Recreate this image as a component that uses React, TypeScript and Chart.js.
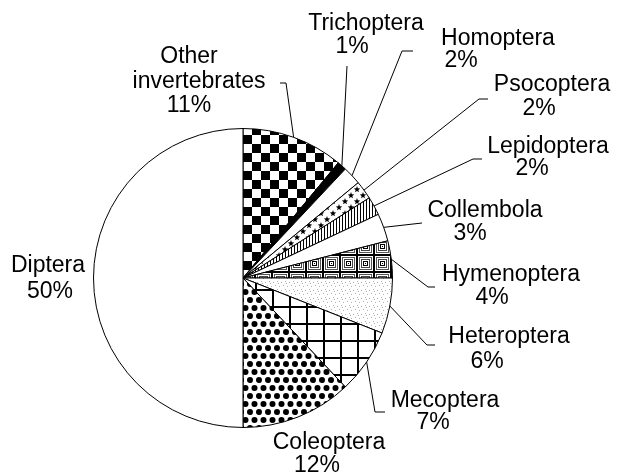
import React, { useEffect, useRef } from "react";
import { Chart, registerables } from "chart.js";

Chart.register(...registerables);

// ---- data ----
const categories = [
  "Other invertebrates",
  "Trichoptera",
  "Homoptera",
  "Psocoptera",
  "Lepidoptera",
  "Collembola",
  "Hymenoptera",
  "Heteroptera",
  "Mecoptera",
  "Coleoptera",
  "Diptera",
];
const shares = [11, 1, 2, 2, 2, 3, 4, 6, 7, 12, 50];

// ---- label layout (text line anchors: x center, baseline y; leader elbow & tick end) ----
type Pt = [number, number];
const labelLayout: { lines: Pt[]; elbow?: Pt; tick?: Pt }[] = [
  { lines: [[189, 63], [199, 88], [189, 112]], elbow: [286, 83], tick: [280, 83] },
  { lines: [[366, 30], [352, 53]], elbow: [347, 66], tick: [347, 66] },
  { lines: [[498, 45], [461, 67]], elbow: [402, 51], tick: [413, 51] },
  { lines: [[552, 91], [539, 115]], elbow: [479, 99], tick: [488, 99] },
  { lines: [[548, 153], [532, 175]], elbow: [473, 159], tick: [482, 159] },
  { lines: [[485, 217], [470, 240]], elbow: [422, 223], tick: [422, 223] },
  { lines: [[511, 281], [492, 304]], elbow: [428, 287], tick: [435, 287] },
  { lines: [[509, 343], [487, 368]], elbow: [427, 345], tick: [435, 345] },
  { lines: [[445, 407], [433, 429]], elbow: [375, 412], tick: [385, 412] },
  { lines: [[329, 449], [317, 472]] },
  { lines: [[48, 272], [50, 298]] },
];

const FONT = '23px "Liberation Sans", Arial, sans-serif';

function tile(
  ctx: CanvasRenderingContext2D,
  w: number,
  h: number,
  draw: (g: CanvasRenderingContext2D) => void
): CanvasPattern | string {
  const c = document.createElement("canvas");
  c.width = w;
  c.height = h;
  const g = c.getContext("2d")!;
  g.fillStyle = "#fff";
  g.fillRect(0, 0, w, h);
  draw(g);
  return ctx.createPattern(c, "repeat") || "#fff";
}

function star(g: CanvasRenderingContext2D, cx: number, cy: number, ro: number, ri: number) {
  g.beginPath();
  for (let i = 0; i < 10; i++) {
    const r = i % 2 === 0 ? ro : ri;
    const a = -Math.PI / 2 + (i * Math.PI) / 5;
    const x = cx + Math.cos(a) * r;
    const y = cy + Math.sin(a) * r;
    if (i === 0) g.moveTo(x, y);
    else g.lineTo(x, y);
  }
  g.closePath();
  g.fill();
}

function makeFills(ctx: CanvasRenderingContext2D) {
  const checker = tile(ctx, 18, 18, (g) => {
    g.fillStyle = "#000";
    g.fillRect(0, 0, 9, 9);
    g.fillRect(9, 9, 9, 9);
  });
  const stars = tile(ctx, 12, 12, (g) => {
    g.fillStyle = "#000";
    star(g, 3, 3.5, 3.4, 1.4);
    star(g, 9, 9.5, 3.4, 1.4);
  });
  const vlines = tile(ctx, 3, 1, (g) => {
    g.fillStyle = "#000";
    g.fillRect(0, 0, 1, 1);
  });
  const squares = tile(ctx, 17, 17, (g) => {
    g.fillStyle = "#000";
    g.fillRect(0, 0, 17, 17);
    g.fillStyle = "#fff";
    g.fillRect(1, 1, 15, 15);
    g.fillStyle = "#555";
    g.fillRect(2, 2, 13, 13);
    g.fillStyle = "#fff";
    g.fillRect(3, 3, 11, 11);
    g.fillStyle = "#444";
    g.fillRect(4, 4, 9, 9);
    g.fillStyle = "#fff";
    g.fillRect(5, 5, 7, 7);
    g.fillStyle = "#000";
    g.fillRect(6, 6, 5, 5);
    g.fillStyle = "#fff";
    g.fillRect(7, 7, 3, 3);
    g.fillStyle = "#000";
    g.fillRect(8, 8, 1, 1);
  });
  const speckle = tile(ctx, 8, 8, (g) => {
    g.fillStyle = "#b0b0b0";
    const pts: Pt[] = [[1, 2], [5, 1], [3, 5], [7, 6], [6, 3]];
    pts.forEach(([x, y]) => g.fillRect(x, y, 1, 1));
  });
  const grid = tile(ctx, 17, 17, (g) => {
    g.fillStyle = "#000";
    g.fillRect(0, 0, 17, 2);
    g.fillRect(0, 0, 2, 17);
  });
  const dots = tile(ctx, 9, 16, (g) => {
    g.fillStyle = "#000";
    const centers: Pt[] = [[2.5, 4], [7, 12]];
    centers.forEach(([x, y]) => {
      for (const dx of [-9, 0, 9])
        for (const dy of [-16, 0, 16]) {
          g.beginPath();
          g.arc(x + dx, y + dy, 3, 0, Math.PI * 2);
          g.fill();
        }
    });
  });
  return [checker, "#000", "#fff", stars, vlines, "#fff", squares, speckle, grid, dots, "#fff"];
}

const labelPlugin = {
  id: "calloutLabels",
  afterDatasetsDraw(chart: any) {
    const ctx: CanvasRenderingContext2D = chart.ctx;
    const meta = chart.getDatasetMeta(0);
    const values: number[] = chart.data.datasets[0].data;
    const total = values.reduce((a, b) => a + b, 0);
    ctx.save();
    ctx.strokeStyle = "#000";
    ctx.lineWidth = 1;
    meta.data.forEach((arc: any, i: number) => {
      const lay = labelLayout[i];
      if (!lay) return;
      const { x, y, startAngle, endAngle, outerRadius } = arc.getProps(
        ["x", "y", "startAngle", "endAngle", "outerRadius"],
        true
      );
      if (lay.elbow) {
        const mid = (startAngle + endAngle) / 2;
        const sx = x + Math.cos(mid) * outerRadius;
        const sy = y + Math.sin(mid) * outerRadius;
        ctx.beginPath();
        ctx.moveTo(sx, sy);
        ctx.lineTo(lay.elbow[0], lay.elbow[1]);
        if (lay.tick) ctx.lineTo(lay.tick[0], lay.tick[1]);
        ctx.stroke();
      }
      const pct = Math.round((values[i] / total) * 100) + "%";
      const words = lay.lines.length > 2 ? chart.data.labels[i].split(" ") : [chart.data.labels[i]];
      const texts = [...words, pct];
      ctx.fillStyle = "#000";
      ctx.font = FONT;
      ctx.textAlign = "center";
      ctx.textBaseline = "alphabetic";
      texts.forEach((t: string, k: number) => {
        const p = lay.lines[k];
        if (p) ctx.fillText(t, p[0], p[1]);
      });
    });
    ctx.restore();
  },
};

export default function App() {
  const ref = useRef<HTMLCanvasElement | null>(null);
  useEffect(() => {
    const canvas = ref.current;
    if (!canvas) return;
    const ctx = canvas.getContext("2d")!;
    const fills = makeFills(ctx);
    const chart = new Chart(canvas, {
      type: "pie",
      data: {
        labels: categories,
        datasets: [
          {
            data: shares,
            backgroundColor: fills as any,
            borderColor: "#000",
            borderWidth: 1,
          },
        ],
      },
      options: {
        responsive: false,
        animation: false,
        layout: { padding: { top: 128, bottom: 47, left: 93, right: 224 } },
        plugins: {
          legend: { display: false },
          tooltip: { enabled: false },
        },
      },
      plugins: [labelPlugin],
    });
    return () => chart.destroy();
  }, []);
  return (
    <div style={{ position: "absolute", left: 0, top: 0, width: 617, height: 475, background: "#fff" }}>
      <canvas ref={ref} width={617} height={475} style={{ display: "block" }} />
    </div>
  );
}
